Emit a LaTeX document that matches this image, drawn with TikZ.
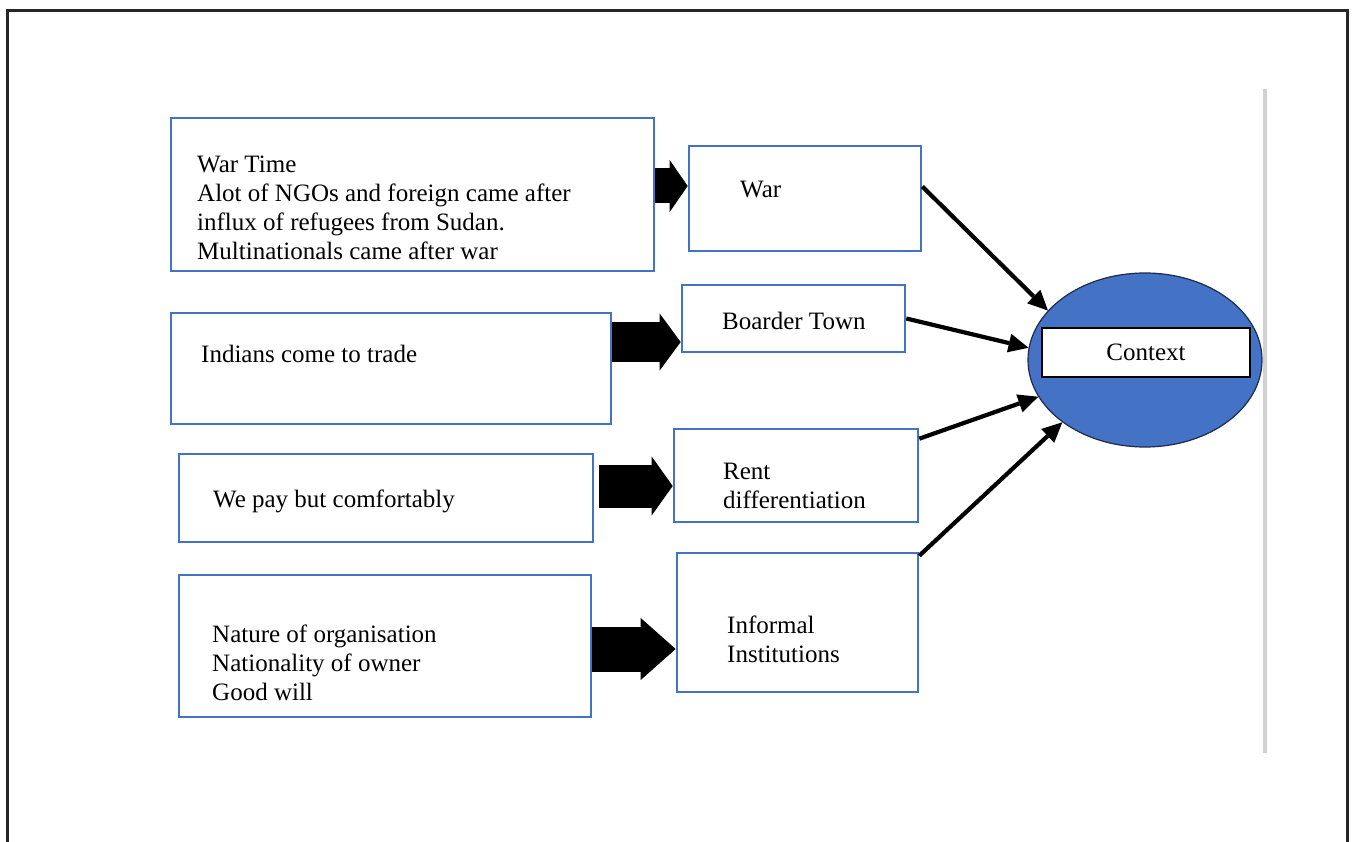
\documentclass[tikz,border=0pt]{standalone}
\usepackage{fontspec}
\setmainfont{Liberation Serif}
\usetikzlibrary{arrows.meta,shapes.geometric}
\definecolor{boxblue}{HTML}{4472C4}
\definecolor{rimblue}{HTML}{1F2A4A}
\newcommand\linesof[1]{\begin{tabular}[t]{@{}l@{}}#1\end{tabular}}

\begin{document}
\begin{tikzpicture}[x=1pt,y=-1pt,
  bx/.style={draw=boxblue,line width=2.6pt,inner sep=0pt},
  txt/.style={anchor=base west,inner sep=0pt,font=\fontsize{25}{29}\selectfont},
  blk/.style n args={3}{draw=black,line width=#1,
    -{Triangle[length=#2,width=#3,line width=0pt]}},
  link/.style={draw=black,line width=4.2pt,
    -{Triangle[length=20pt,width=19pt,line width=0pt]}}]

% page size and frame
\useasboundingbox (0,0) rectangle (1353,842);
\draw[line width=3pt,black!85] (7,842) -- (7,11) -- (1347,11) -- (1347,842);
\draw[line width=3.5pt,black!18] (1265,89) -- (1265,753);

% source boxes (left column)
\node[bx,minimum width=483,minimum height=153] (b1) at (412.5,194.5) {};
\node[bx,minimum width=440,minimum height=111] (b2) at (391,368.5) {};
\node[bx,minimum width=414,minimum height=88]  (b3) at (386,498) {};
\node[bx,minimum width=412,minimum height=142] (b4) at (385,646) {};

% category boxes (middle column)
\node[bx,minimum width=232,minimum height=105] (war)  at (805,198.5) {};
\node[bx,minimum width=223,minimum height=67]  (bt)   at (793.5,318.5) {};
\node[bx,minimum width=244,minimum height=93]  (rent) at (796,475.5) {};
\node[bx,minimum width=241,minimum height=139] (inf)  at (797.5,622.5) {};

% texts
\node[txt] (t1) at (197,173) {\linesof{War Time\\Alot of NGOs and foreign came after\\influx of refugees from Sudan.\\Multinationals came after war}};
\node[txt] (t2) at (201,363) {Indians come to trade};
\node[txt] (t3) at (213,507) {We pay but comfortably};
\node[txt] (t4) at (212,642) {\linesof{Nature of organisation\\Nationality of owner\\Good will}};
\node[txt] (tw) at (740,198) {War};
\node[txt] (tb) at (722,330) {Boarder Town};
\node[txt] (tr) at (723,479) {\linesof{Rent\\differentiation}};
\node[txt] (ti) at (727,633) {\linesof{Informal\\Institutions}};

% context
\node[ellipse,draw=rimblue,line width=1.2pt,fill=boxblue,inner sep=0pt,
      minimum width=234,minimum height=174] (ctx) at (1145,360) {};
\node[draw=black,line width=1.3pt,fill=white,inner sep=0pt,
      minimum width=208,minimum height=49,
      font=\fontsize{25}{29}\selectfont] (ctxlbl) at (1146,352.5) {Context};

% block arrows
\draw[blk={35pt}{18pt}{52pt}] ([yshift=8.5pt]b1.east) -- ([yshift=12.5pt]war.west);
\draw[blk={40pt}{21pt}{57pt}] ([yshift=26.5pt]b2.east) -- ([yshift=-23.5pt]bt.west);
\draw[blk={43pt}{21pt}{59pt},shorten <=5pt] ([yshift=12pt]b3.east) -- ([yshift=-10.5pt]rent.west);
\draw[blk={45pt}{35pt}{62pt}] ([yshift=-3pt]b4.east) -- ([yshift=-26.5pt]inf.west);

% links into context
\draw[link] ([yshift=12pt]war.east) -- (ctx.153);
\draw[link] (bt.east) -- (ctx.174);
\draw[link] ([yshift=-11pt]rent.north east) -- (ctx.199.5);
\draw[link] ([yshift=-4pt]inf.north east) -- (ctx.217.5);
\end{tikzpicture}
\end{document}
